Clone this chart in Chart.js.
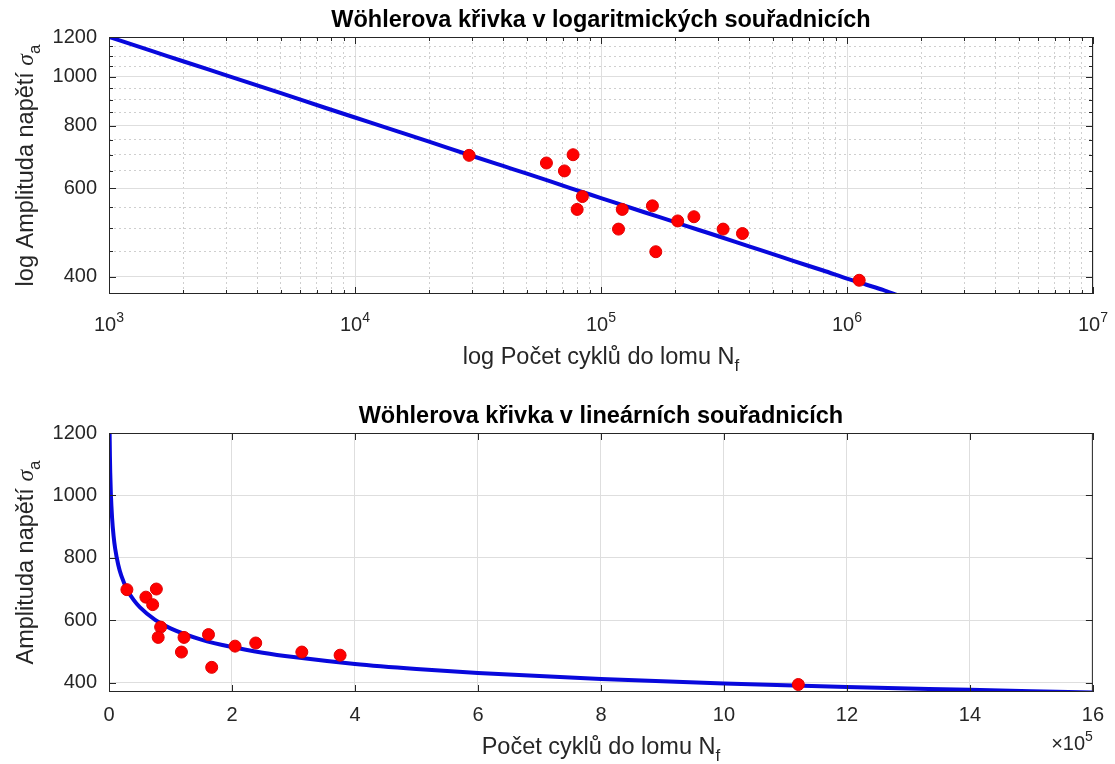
<!DOCTYPE html>
<html>
<head>
<meta charset="utf-8">
<script src="https://cdn.jsdelivr.net/npm/chart.js@4.4.1/dist/chart.umd.min.js"></script>
<style>
  body { margin: 0; background: #fff; }
  #wrap { position: relative; width: 1115px; height: 764px; }
  canvas { position: absolute; left: 0; }
</style>
</head>
<body>
<div id="wrap">
  <canvas id="logChart" width="1115" height="382" style="top:0"></canvas>
  <canvas id="linChart" width="1115" height="382" style="top:382px"></canvas>
</div>
<script>
// naměřené body (počet cyklů, amplituda napětí)
const cyclesN = [29100, 60000, 71000, 77000, 84000, 80000, 122000, 117800, 161800, 167000, 205000, 238600, 313600, 375800, 1121000];
const stressAmp = [698, 674, 650, 700, 578, 545, 545, 498, 554, 449, 517, 527, 498, 488, 394];

// body odečtené z modré křivky
const fitN = [1000, 1500, 2000, 3000, 5000, 7500, 10000, 15000, 20000, 30000, 40000, 50000, 75000, 100000,
              150000, 200000, 250000, 300000, 400000, 500000, 600000, 800000, 1000000, 1200000, 1400000, 1600000];
const fitStress = [1200, 1125, 1074, 1007, 928, 869, 830, 778, 743, 696, 665, 642, 601, 574,
                   538, 514, 496, 482, 460, 444, 431, 412, 397, 386, 377, 368];

// osy
const logDecades = [1e3, 1e4, 1e5, 1e6, 1e7];
const logExponents = ['3', '4', '5', '6', '7'];
const minorMantissa = [2, 3, 4, 5, 6, 7, 8, 9];
const yLogMajor = [400, 600, 800, 1000, 1200];
const yLogMinor = [450, 500, 550, 650, 700, 750, 850, 900, 950, 1050, 1100, 1150];
const xLinTicks = [0, 2e5, 4e5, 6e5, 8e5, 10e5, 12e5, 14e5, 16e5];
const xLinLabels = ['0', '2', '4', '6', '8', '10', '12', '14', '16'];
const yLinTicks = [400, 600, 800, 1000, 1200];

const titleLog = 'Wöhlerova křivka v logaritmických souřadnicích';
const titleLin = 'Wöhlerova křivka v lineárních souřadnicích';

const FONT = '"Liberation Sans", Arial, sans-serif';
const INK = '#262626';
const GRID = '#dedede';
const MINOR_GRID = '#cfcfcf';
const BLUE = '#0808dc';

const xLogMinor = [];
logDecades.slice(0, 4).forEach(d => minorMantissa.forEach(m => xLogMinor.push(d * m)));

const points = cyclesN.map((n, i) => ({ x: n, y: stressAmp[i] }));
const fitPoints = fitN.map((n, i) => ({ x: n, y: fitStress[i] }));

function partFont(p, size) {
  if (p.sub || p.sup) return Math.round(size * 0.72) + 'px ' + FONT;
  if (p.greek) return 'italic ' + size + 'px "Liberation Serif", serif';
  return size + 'px ' + FONT;
}

function drawRich(ctx, parts, x, y, size, align) {
  let w = 0;
  parts.forEach(p => { ctx.font = partFont(p, size); p.w = ctx.measureText(p.t).width; w += p.w; });
  let cx = align === 'center' ? x - w / 2 : (align === 'right' ? x - w : x);
  ctx.textAlign = 'left';
  ctx.textBaseline = 'alphabetic';
  parts.forEach(p => {
    ctx.font = partFont(p, size);
    const dy = p.sub ? size * 0.3 : (p.sup ? -size * 0.43 : 0);
    ctx.fillText(p.t, cx, y + dy);
    cx += p.w;
  });
}

// rámeček, tiky dovnitř, titulky a popisky os
const framePlugin = {
  id: 'frame',
  afterDraw(chart, args, o) {
    const { ctx, chartArea: a } = chart;
    ctx.save();
    ctx.strokeStyle = INK;
    ctx.lineWidth = 1;
    ctx.beginPath();
    o.marks.forEach(([id, len]) => {
      const s = chart.scales[id];
      s.ticks.forEach(t => {
        const p = Math.round(s.getPixelForValue(t.value)) + 0.5;
        if (s.isHorizontal()) {
          ctx.moveTo(p, a.bottom); ctx.lineTo(p, a.bottom - len);
          ctx.moveTo(p, a.top); ctx.lineTo(p, a.top + len);
        } else {
          ctx.moveTo(a.left, p); ctx.lineTo(a.left + len, p);
          ctx.moveTo(a.right, p); ctx.lineTo(a.right - len, p);
        }
      });
    });
    ctx.stroke();
    ctx.strokeRect(a.left + 0.5, a.top + 0.5, a.right - a.left - 1, a.bottom - a.top - 1);

    const cx = (a.left + a.right) / 2;
    ctx.fillStyle = '#000';
    ctx.font = 'bold 23.5px ' + FONT;
    ctx.textAlign = 'center';
    ctx.textBaseline = 'alphabetic';
    ctx.fillText(o.title, cx, a.top - 10.5);

    ctx.fillStyle = INK;
    if (o.logLabels) {
      const s = chart.scales.x;
      s.ticks.forEach((t, i) => {
        drawRich(ctx, [{ t: '10' }, { t: o.logLabels[i], sup: true }], s.getPixelForValue(t.value), a.bottom + 37, 20, 'center');
      });
    }
    if (o.exponent) {
      drawRich(ctx, [{ t: '×10' }, { t: o.exponent, sup: true }], a.right, a.bottom + 58, 20, 'right');
    }
    drawRich(ctx, o.xLabel, cx, a.bottom + o.xLabelGap, 23.5, 'center');

    ctx.translate(33, (a.top + a.bottom) / 2);
    ctx.rotate(-Math.PI / 2);
    drawRich(ctx, o.yLabel, 0, 0, 23.5, 'center');
    ctx.restore();
  }
};

function setTicks(values) {
  return s => { s.ticks = values.map(v => ({ value: v })); };
}
function fixHeight(h) { return s => { s.height = h; }; }
function fixWidth(w) { return s => { s.width = w; }; }

Chart.defaults.font.family = FONT;
Chart.defaults.color = INK;

function baseDatasets() {
  return [
    {
      label: 'měření',
      data: points,
      pointRadius: 6,
      pointHoverRadius: 6,
      backgroundColor: '#ff0000',
      borderColor: '#e00000',
      borderWidth: 1
    },
    {
      label: 'křivka',
      data: fitPoints,
      showLine: true,
      pointRadius: 0,
      borderColor: BLUE,
      borderWidth: 4,
      cubicInterpolationMode: 'monotone',
      clip: 0
    }
  ];
}

new Chart(document.getElementById('logChart'), {
  type: 'scatter',
  data: { datasets: baseDatasets() },
  plugins: [framePlugin],
  options: {
    responsive: false,
    animation: false,
    events: [],
    devicePixelRatio: 1,
    layout: { autoPadding: false, padding: { left: 0, right: 22, top: 37, bottom: 0 } },
    plugins: {
      legend: { display: false },
      tooltip: { enabled: false },
      frame: {
        title: titleLog,
        logLabels: logExponents,
        xLabel: [{ t: 'log Počet cyklů do lomu N' }, { t: 'f', sub: true }],
        xLabelGap: 70,
        yLabel: [{ t: 'log Amplituda napětí ' }, { t: 'σ', greek: true }, { t: 'a', sub: true }],
        marks: [['x', 7], ['xMinor', 4], ['y', 7], ['yMinor', 4]]
      }
    },
    scales: {
      x: {
        type: 'logarithmic', min: 1e3, max: 1e7,
        afterBuildTicks: setTicks(logDecades), afterFit: fixHeight(88),
        ticks: { display: false },
        grid: { color: GRID, drawTicks: false },
        border: { display: false }
      },
      xMinor: {
        type: 'logarithmic', position: 'bottom', min: 1e3, max: 1e7,
        afterBuildTicks: setTicks(xLogMinor), afterFit: fixHeight(0),
        ticks: { display: false },
        grid: { color: MINOR_GRID, drawTicks: false },
        border: { display: false, dash: [2, 3] }
      },
      y: {
        type: 'logarithmic', min: 370, max: 1200,
        afterBuildTicks: setTicks(yLogMajor), afterFit: fixWidth(109),
        ticks: { callback: v => String(v), padding: 12, color: INK, font: { size: 20 }, autoSkip: false },
        grid: { color: GRID, drawTicks: false },
        border: { display: false }
      },
      yMinor: {
        type: 'logarithmic', position: 'left', min: 370, max: 1200,
        afterBuildTicks: setTicks(yLogMinor), afterFit: fixWidth(0),
        ticks: { display: false },
        grid: { color: MINOR_GRID, drawTicks: false },
        border: { display: false, dash: [2, 3] }
      }
    }
  }
});

new Chart(document.getElementById('linChart'), {
  type: 'scatter',
  data: { datasets: baseDatasets() },
  plugins: [framePlugin],
  options: {
    responsive: false,
    animation: false,
    events: [],
    devicePixelRatio: 1,
    layout: { autoPadding: false, padding: { left: 0, right: 22, top: 51, bottom: 0 } },
    plugins: {
      legend: { display: false },
      tooltip: { enabled: false },
      frame: {
        title: titleLin,
        exponent: '5',
        xLabel: [{ t: 'Počet cyklů do lomu N' }, { t: 'f', sub: true }],
        xLabelGap: 62,
        yLabel: [{ t: 'Amplituda napětí ' }, { t: 'σ', greek: true }, { t: 'a', sub: true }],
        marks: [['x', 7], ['y', 7]]
      }
    },
    scales: {
      x: {
        type: 'linear', min: 0, max: 16e5,
        afterBuildTicks: setTicks(xLinTicks), afterFit: fixHeight(72),
        ticks: { callback: (v, i) => xLinLabels[i], padding: 11, color: INK, font: { size: 20 }, autoSkip: false, maxRotation: 0 },
        grid: { color: GRID, drawTicks: false },
        border: { display: false }
      },
      y: {
        type: 'linear', min: 370, max: 1200,
        afterBuildTicks: setTicks(yLinTicks), afterFit: fixWidth(109),
        ticks: { callback: v => String(v), padding: 12, color: INK, font: { size: 20 }, autoSkip: false },
        grid: { color: GRID, drawTicks: false },
        border: { display: false }
      }
    }
  }
});
</script>
</body>
</html>
